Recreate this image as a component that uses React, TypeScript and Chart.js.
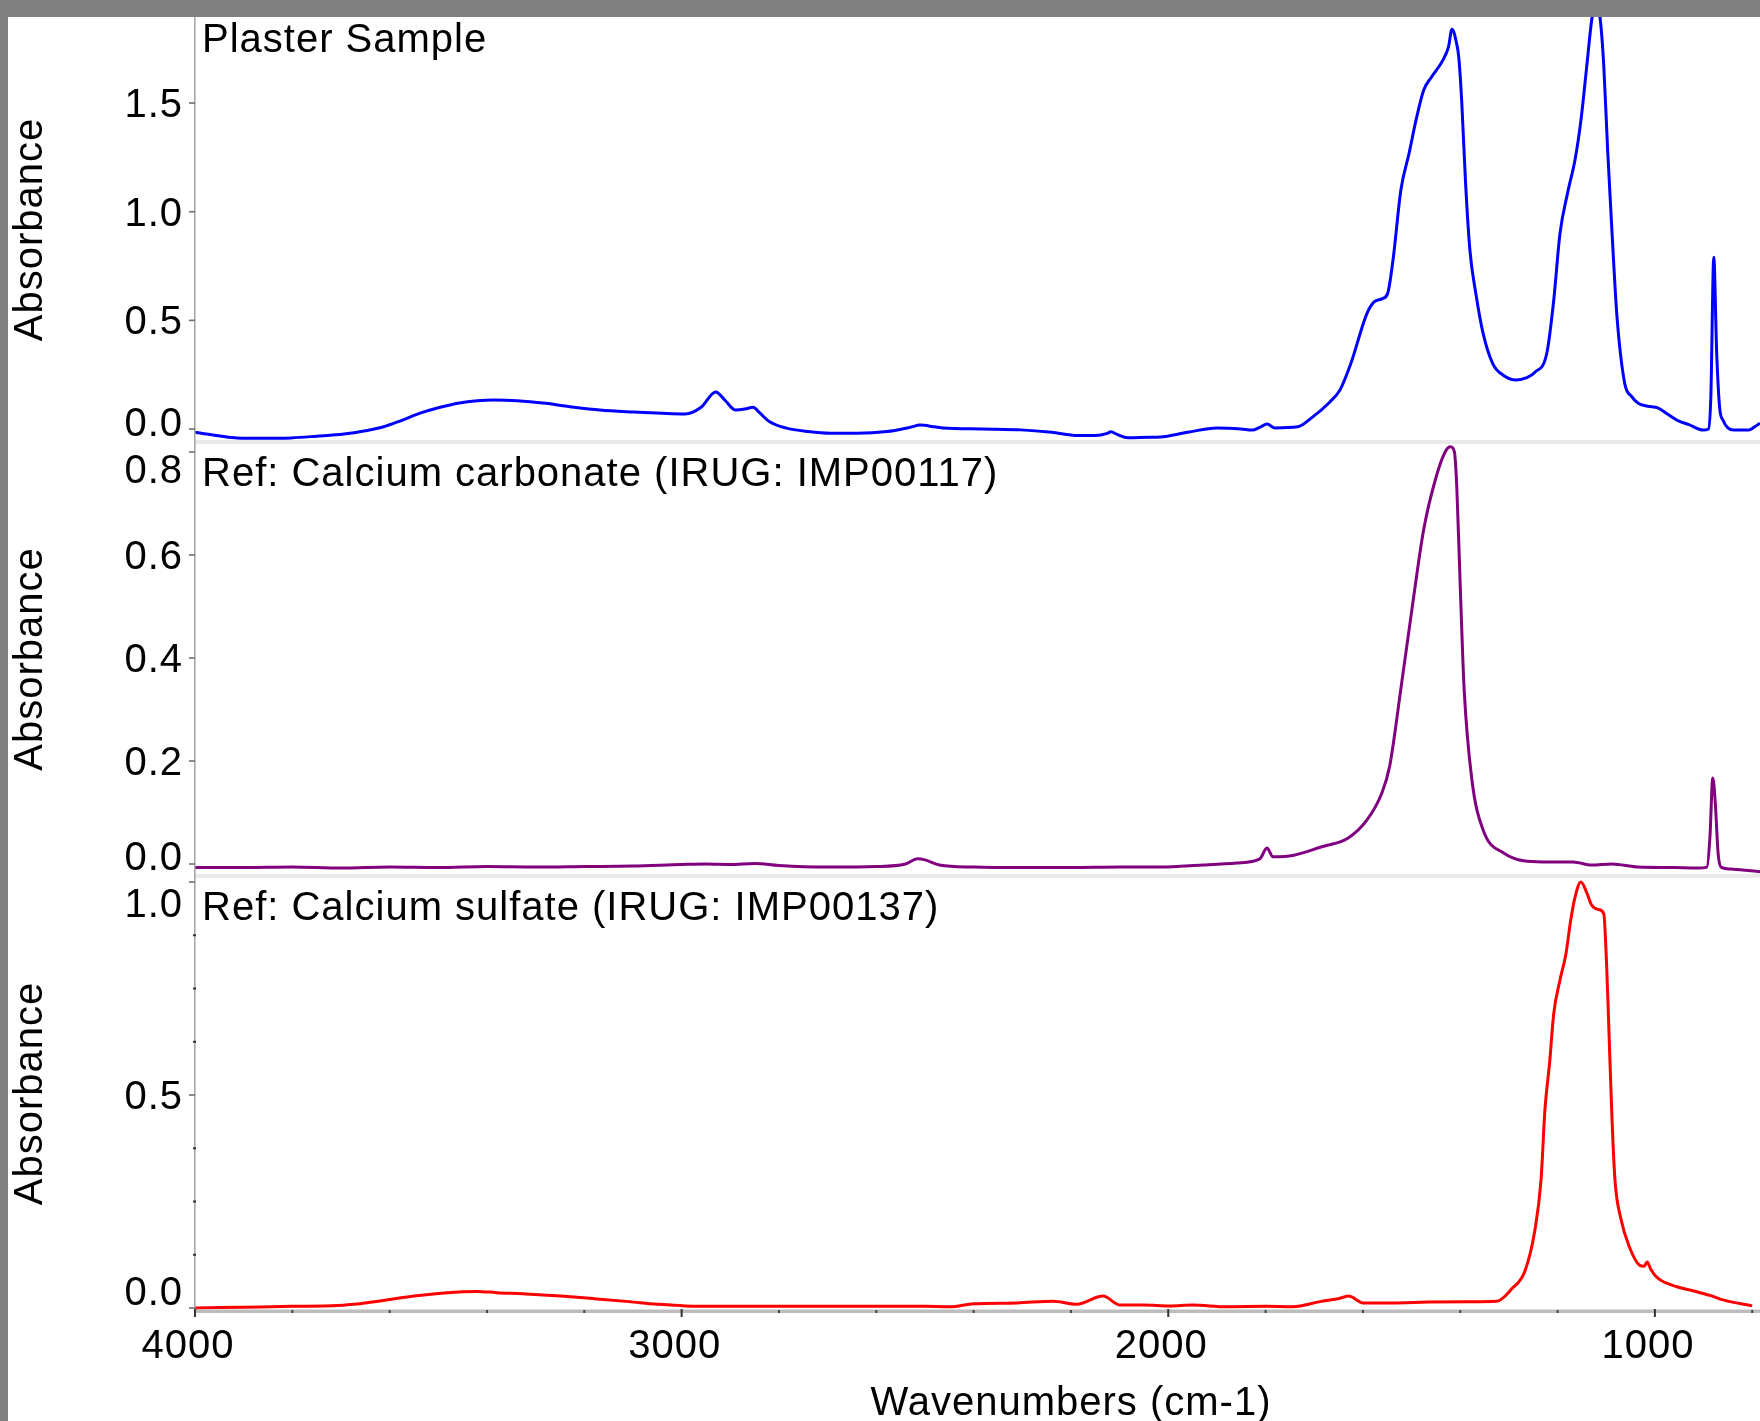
import React, { useEffect, useRef } from 'react';
import { Chart, registerables } from 'chart.js';

Chart.register(...registerables);

// ---------- data ----------
const plasterWavenumbers = [
  4000, 3990, 3940, 3914, 3860, 3803, 3750, 3694, 3650, 3614, 3575, 3536, 3500, 3457, 3420, 3386, 3338, 3280, 3221, 3168,
  3100, 3040, 2993, 2960, 2930, 2910, 2890, 2870, 2853, 2840, 2820, 2786, 2740, 2694, 2640, 2578, 2530, 2510, 2480, 2463,
  2380, 2303, 2240, 2186, 2150, 2125, 2118, 2105, 2083, 2040, 2017, 1960, 1900, 1850, 1828, 1810, 1797, 1781, 1734, 1703,
  1670, 1647, 1625, 1592, 1577, 1560, 1549, 1538, 1522, 1505, 1491, 1475, 1459, 1435, 1424, 1417, 1408, 1403, 1397, 1389,
  1380, 1368, 1353, 1333, 1310, 1285, 1265, 1247, 1222, 1208, 1195, 1179, 1164, 1152, 1140, 1130, 1122, 1113, 1105, 1097,
  1088, 1078, 1062, 1048, 1035, 1015, 994, 975, 955, 930, 901, 890, 885, 879, 873, 867, 860, 850, 838, 807, 795, 784,
];
const plasterAbsorbance = [
  -0.015, -0.018, -0.035, -0.041, -0.043, -0.041, -0.033, -0.023, -0.008, 0.009, 0.04, 0.074, 0.098, 0.12, 0.13, 0.133, 0.13, 0.118, 0.1, 0.087,
  0.078, 0.072, 0.069, 0.1, 0.17, 0.13, 0.088, 0.092, 0.1, 0.075, 0.035, 0.005, -0.012, -0.02, -0.02, -0.012, 0.008, 0.018, 0.01, 0.005,
  0.0, -0.004, -0.015, -0.03, -0.03, -0.02, -0.013, -0.025, -0.04, -0.038, -0.037, -0.015, 0.005, 0.0, -0.005, 0.01, 0.023, 0.005, 0.01, 0.056,
  0.12, 0.18, 0.3, 0.53, 0.585, 0.6, 0.625, 0.78, 1.1, 1.27, 1.42, 1.56, 1.62, 1.7, 1.76, 1.84, 1.78, 1.71, 1.51, 1.13,
  0.82, 0.625, 0.44, 0.3, 0.245, 0.225, 0.235, 0.26, 0.35, 0.59, 0.9, 1.09, 1.24, 1.42, 1.67, 1.88, 1.97, 1.9, 1.67, 1.28,
  0.9, 0.52, 0.21, 0.15, 0.12, 0.105, 0.097, 0.07, 0.041, 0.02, -0.005, 0.0, 0.15, 0.79, 0.35, 0.1, 0.04, 0.005, -0.005, -0.005, 0.01, 0.027,
];

const carbonateWavenumbers = [
  4000, 3900, 3800, 3700, 3600, 3500, 3400, 3300, 3200, 3100, 3000, 2950, 2900, 2850, 2800, 2700, 2600, 2540, 2515, 2500,
  2470, 2400, 2300, 2200, 2100, 2017, 1930, 1859, 1812, 1797, 1785, 1742, 1686, 1631, 1592, 1561, 1545, 1522, 1497, 1475,
  1450, 1431, 1420, 1412, 1407, 1400, 1392, 1376, 1353, 1310, 1230, 1168, 1130, 1088, 1035, 960, 916, 893, 887, 881,
  876, 870, 864, 840, 784,
];
const carbonateAbsorbance = [
  -0.007, -0.007, -0.006, -0.008, -0.006, -0.007, -0.005, -0.006, -0.005, -0.004, -0.001, 0.0, -0.001, 0.001, -0.003, -0.006, -0.005, 0.0, 0.01, 0.008,
  -0.002, -0.006, -0.007, -0.007, -0.006, -0.006, -0.002, 0.002, 0.01, 0.031, 0.014, 0.017, 0.033, 0.05, 0.085, 0.138, 0.19, 0.34, 0.51, 0.65,
  0.75, 0.8, 0.81, 0.8, 0.73, 0.54, 0.34, 0.163, 0.066, 0.021, 0.004, 0.004, -0.002, 0.0, -0.006, -0.007, -0.008, -0.006, 0.05, 0.167,
  0.12, 0.02, -0.006, -0.01, -0.015,
];

const sulfateWavenumbers = [
  4000, 3900, 3800, 3708, 3650, 3600, 3550, 3500, 3450, 3420, 3380, 3320, 3248, 3180, 3108, 3050, 2993, 2900, 2800, 2700,
  2600, 2500, 2449, 2400, 2311, 2237, 2188, 2134, 2099, 2050, 1997, 1950, 1880, 1800, 1744, 1688, 1647, 1629, 1600, 1540,
  1467, 1380, 1325, 1294, 1267, 1247, 1234, 1226, 1216, 1208, 1195, 1183, 1173, 1165, 1152, 1140, 1130, 1115, 1105, 1099,
  1095, 1088, 1082, 1070, 1053, 1031, 1022, 1016, 1008, 994, 955, 920, 885, 860, 800,
];
const sulfateAbsorbance = [
  0.0, 0.002, 0.004, 0.006, 0.012, 0.02, 0.028, 0.034, 0.038, 0.039, 0.036, 0.033, 0.028, 0.022, 0.015, 0.009, 0.005, 0.004, 0.004, 0.004,
  0.004, 0.004, 0.003, 0.01, 0.012, 0.016, 0.009, 0.028, 0.007, 0.007, 0.005, 0.007, 0.003, 0.004, 0.003, 0.015, 0.023, 0.028, 0.012, 0.012,
  0.014, 0.015, 0.016, 0.045, 0.087, 0.18, 0.3, 0.465, 0.58, 0.69, 0.77, 0.83, 0.91, 0.96, 1.0, 0.975, 0.946, 0.935, 0.925, 0.8,
  0.67, 0.44, 0.3, 0.21, 0.145, 0.1, 0.098, 0.108, 0.09, 0.07, 0.05, 0.04, 0.029, 0.019, 0.005,
];

const panelTitles = [
  'Plaster Sample',
  'Ref: Calcium carbonate (IRUG: IMP00117)',
  'Ref: Calcium sulfate (IRUG: IMP00137)',
];
const seriesColors = ['#0000ff', '#800080', '#ff0000'];

const yMajorTicks1 = [0, 0.5, 1.0, 1.5];
const yMajorTicks2 = [0, 0.2, 0.4, 0.6, 0.8];
const yMajorTicks3 = [0, 0.5, 1.0];
const yMinorTicks3 = [0.125, 0.25, 0.375, 0.625, 0.75, 0.875];
const xMajorTicks = [4000, 3000, 2000, 1000];
const xMinorTicks = [3800, 3600, 3400, 3200, 2800, 2600, 2400, 2200, 1800, 1600, 1400, 1200, 800];
const xTitleCenterValue = 2200;

const yRanges = [
  { min: -0.0598, max: 1.896 },
  { min: -0.0233, max: 0.8194 },
  { min: -0.007, max: 1.0141 },
];
const xRange = { min: 784, max: 4000 };

const FONT = '"Liberation Sans", Arial, Helvetica, sans-serif';
const TEXT_COLOR = '#000';

function toPoints(xs: number[], ys: number[]) {
  return xs.map((x, i) => ({ x, y: ys[i] }));
}

const decorPlugin = {
  id: 'spectraDecor',
  beforeDraw(chart: any) {
    // slightly wider text, as in the original rendering
    (chart.ctx as any).letterSpacing = '1px';
  },
  beforeDatasetsDraw(chart: any) {
    const ctx = chart.ctx;
    const { left, right } = chart.chartArea;
    ctx.save();
    ctx.fillStyle = '#e9e9e9';
    for (const id of ['y1', 'y2']) {
      const s = chart.scales[id];
      ctx.fillRect(left, s.bottom - 2, right - left, 4);
    }
    ctx.restore();
  },
  afterDatasetsDraw(chart: any) {
    const ctx = chart.ctx;
    const { left, right } = chart.chartArea;
    const xs = chart.scales.x;
    const ids = ['y1', 'y2', 'y3'];
    const majors = [yMajorTicks1, yMajorTicks2, yMajorTicks3];
    const minors = [[], [], yMinorTicks3];
    const titleOffsets = [35, 44, 44];
    const axisY = chart.scales.y3.bottom;
    const top = chart.scales.y1.top;

    ctx.save();
    (ctx as any).letterSpacing = '1px';
    // y axis line
    ctx.fillStyle = '#a8a8a8';
    ctx.fillRect(left - 1, top, 1.6, axisY - top);
    // x axis line
    ctx.fillStyle = '#bdbdbd';
    ctx.fillRect(left, axisY - 1.5, right - left, 3.5);

    ctx.font = `40px ${FONT}`;
    ids.forEach((id, i) => {
      const s = chart.scales[id];
      majors[i].forEach((v) => {
        const py = s.getPixelForValue(v);
        ctx.fillStyle = '#707070';
        ctx.fillRect(left - 6, py - 0.8, 6, 1.6);
        ctx.fillStyle = TEXT_COLOR;
        ctx.textAlign = 'right';
        ctx.textBaseline = 'middle';
        const ly = Math.min(Math.max(py, s.top + 27), s.bottom - 20) + 3;
        ctx.fillText(v.toFixed(1), left - 12, ly);
      });
      minors[i].forEach((v) => {
        const py = s.getPixelForValue(v);
        ctx.fillStyle = '#333';
        ctx.fillRect(left - 2, py - 1, 3, 2);
      });
      ctx.fillStyle = TEXT_COLOR;
      ctx.textAlign = 'left';
      ctx.textBaseline = 'alphabetic';
      ctx.fillText(panelTitles[i], left + 7, s.top + titleOffsets[i]);
    });

    xMajorTicks.forEach((v) => {
      const px = xs.getPixelForValue(v);
      ctx.fillStyle = '#333';
      ctx.fillRect(px - 1, axisY - 2, 2, 8);
      ctx.fillStyle = TEXT_COLOR;
      ctx.textAlign = 'center';
      ctx.textBaseline = 'middle';
      ctx.fillText(String(v), px - 7, axisY + 36);
    });
    xMinorTicks.forEach((v) => {
      const px = xs.getPixelForValue(v);
      ctx.fillStyle = '#444';
      ctx.fillRect(px - 1, axisY - 1, 2, 3);
    });
    ctx.fillStyle = TEXT_COLOR;
    ctx.textAlign = 'center';
    ctx.textBaseline = 'alphabetic';
    ctx.fillText('Wavenumbers (cm-1)', xs.getPixelForValue(xTitleCenterValue), axisY + 104);
    ctx.restore();
  },
};

function yScale(idx: number, weight: number, stackWeight: number) {
  return {
    type: 'linear',
    position: 'left',
    stack: 'spectra',
    stackWeight,
    weight,
    min: yRanges[idx].min,
    max: yRanges[idx].max,
    ticks: { display: false },
    grid: { display: false, drawTicks: false },
    border: { display: false },
    title: {
      display: true,
      text: 'Absorbance',
      color: TEXT_COLOR,
      padding: { top: 3, bottom: 0 },
      font: { family: FONT, size: 40, lineHeight: 1 },
    },
    afterFit: (s: any) => {
      s.width = 187;
    },
  };
}

export default function App() {
  const canvasRef = useRef<HTMLCanvasElement | null>(null);

  useEffect(() => {
    if (!canvasRef.current) return;
    const chart = new Chart(canvasRef.current, {
      type: 'line',
      data: {
        datasets: [
          {
            label: 'Plaster Sample',
            data: toPoints(plasterWavenumbers, plasterAbsorbance),
            yAxisID: 'y1',
            borderColor: seriesColors[0],
          },
          {
            label: 'Calcium carbonate',
            data: toPoints(carbonateWavenumbers, carbonateAbsorbance),
            yAxisID: 'y2',
            borderColor: seriesColors[1],
          },
          {
            label: 'Calcium sulfate',
            data: toPoints(sulfateWavenumbers, sulfateAbsorbance),
            yAxisID: 'y3',
            borderColor: seriesColors[2],
          },
        ].map((d) => ({
          ...d,
          borderWidth: 3,
          pointRadius: 0,
          fill: false,
          cubicInterpolationMode: 'monotone' as const,
        })),
      },
      options: {
        animation: false,
        responsive: false,
        maintainAspectRatio: false,
        devicePixelRatio: 1,
        events: [],
        layout: { padding: 0 },
        plugins: { legend: { display: false }, tooltip: { enabled: false }, title: { display: false } },
        scales: {
          x: {
            type: 'linear',
            position: 'bottom',
            reverse: true,
            min: xRange.min,
            max: xRange.max,
            ticks: { display: false },
            grid: { display: false, drawTicks: false },
            border: { display: false },
            afterFit: (s: any) => {
              s.height = 110;
            },
          },
          y1: yScale(0, 3, 425),
          y2: yScale(1, 2, 434),
          y3: yScale(2, 1, 435),
        } as any,
      },
      plugins: [decorPlugin],
    });
    return () => chart.destroy();
  }, []);

  return (
    <div
      style={{
        position: 'fixed',
        left: 0,
        top: 0,
        width: 1760,
        height: 1421,
        background: '#808080',
        overflow: 'hidden',
      }}
    >
      <div style={{ position: 'absolute', left: 8, top: 17, width: 1752, height: 1404, background: '#fff' }}>
        <canvas ref={canvasRef} width={1752} height={1404} style={{ display: 'block', width: 1752, height: 1404 }} />
      </div>
    </div>
  );
}
